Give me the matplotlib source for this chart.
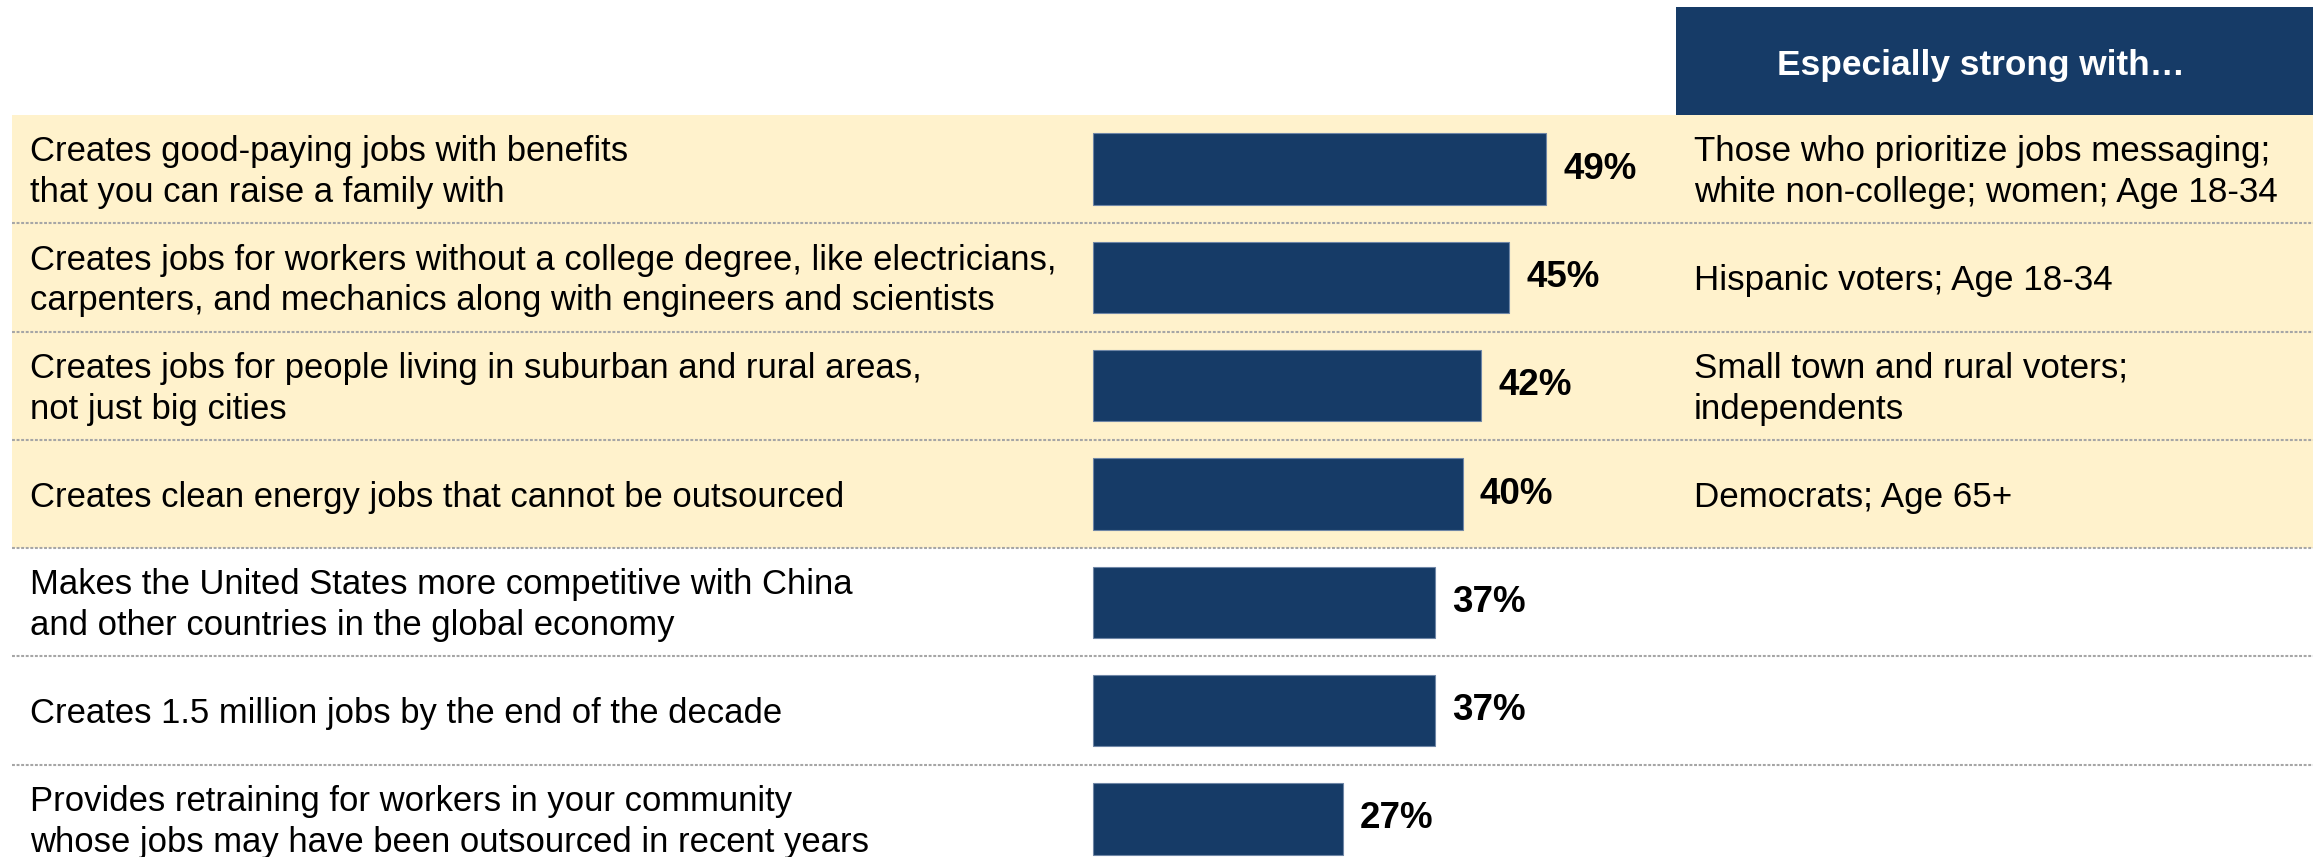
import matplotlib
matplotlib.use("Agg")
import matplotlib.pyplot as plt
from matplotlib.patches import Rectangle
import matplotlib.transforms as mtransforms

plt.rcParams['font.family'] = ['Liberation Sans', 'DejaVu Sans']

labels = [
    "Creates good-paying jobs with benefits\nthat you can raise a family with",
    "Creates jobs for workers without a college degree, like electricians,\ncarpenters, and mechanics along with engineers and scientists",
    "Creates jobs for people living in suburban and rural areas,\nnot just big cities",
    "Creates clean energy jobs that cannot be outsourced",
    "Makes the United States more competitive with China\nand other countries in the global economy",
    "Creates 1.5 million jobs by the end of the decade",
    "Provides retraining for workers in your community\nwhose jobs may have been outsourced in recent years",
]
values = [49, 45, 42, 40, 37, 37, 27]
strong_with = [
    "Those who prioritize jobs messaging;\nwhite non-college; women; Age 18-34",
    "Hispanic voters; Age 18-34",
    "Small town and rural voters;\nindependents",
    "Democrats; Age 65+",
    "", "", "",
]
highlighted = [True, True, True, True, False, False, False]
header_title = "Especially strong with\u2026"

NAVY = '#163B67'
YELLOW = '#FFF2CC'
GRID = '#A6A6A6'

W, H = 2313, 857
fig = plt.figure(figsize=(W / 100, H / 100), dpi=100)
ax = fig.add_axes([0, 0, 1, 1])
ax.set_axis_off()

# pixel geometry of the layout
x0_px, px_per_pct = 1093, 9.25
row_top_px, row_h_px = 115, 108.3
ax.set_xlim(-x0_px / px_per_pct, (W - x0_px) / px_per_pct)
ax.set_ylim((H - row_top_px) / row_h_px - 0.5, -row_top_px / row_h_px - 0.5)

left_frac = 12 / W
n = len(values)
for i in range(n):
    if highlighted[i]:
        ax.axhspan(i - 0.5, i + 0.5, xmin=left_frac, xmax=1, color=YELLOW, lw=0, zorder=0)
for i in range(n - 1):
    ax.axhline(i + 0.5, xmin=left_frac, xmax=1, color=GRID, lw=1.5,
               dashes=(1.4, 0.8), zorder=1)

ax.barh(range(n), values, height=0.66, color=NAVY, edgecolor='#6F86A6',
        linewidth=0.8, zorder=2)

text_dy = 3 / row_h_px
trans = mtransforms.blended_transform_factory(ax.transAxes, ax.transData)
for i, (lab, v, s) in enumerate(zip(labels, values, strong_with)):
    ax.text(30 / W, i + text_dy, lab, transform=trans, ha='left', va='center',
            fontsize=24.9, color='black', linespacing=1.3)
    ax.text(v + 17 / px_per_pct, i, f"{v}%", ha='left', va='center',
            fontsize=26.5, fontweight='bold', color='black')
    if s:
        ax.text(1694 / W, i + text_dy, s, transform=trans, ha='left', va='center',
                fontsize=25.2, color='black', linespacing=1.3)

# header box
hx0, hy0, hy1 = 1676 / W, 1 - 115 / H, 1 - 7 / H
ax.add_patch(Rectangle((hx0, hy0), 1 - hx0, hy1 - hy0, transform=ax.transAxes,
                       facecolor=NAVY, edgecolor='none', zorder=3))
ax.text(1981 / W, 1 - 66 / H, header_title, transform=ax.transAxes,
        ha='center', va='center', fontsize=25.4, fontweight='bold', color='white', zorder=4)

fig.savefig('out.png', dpi=100)
